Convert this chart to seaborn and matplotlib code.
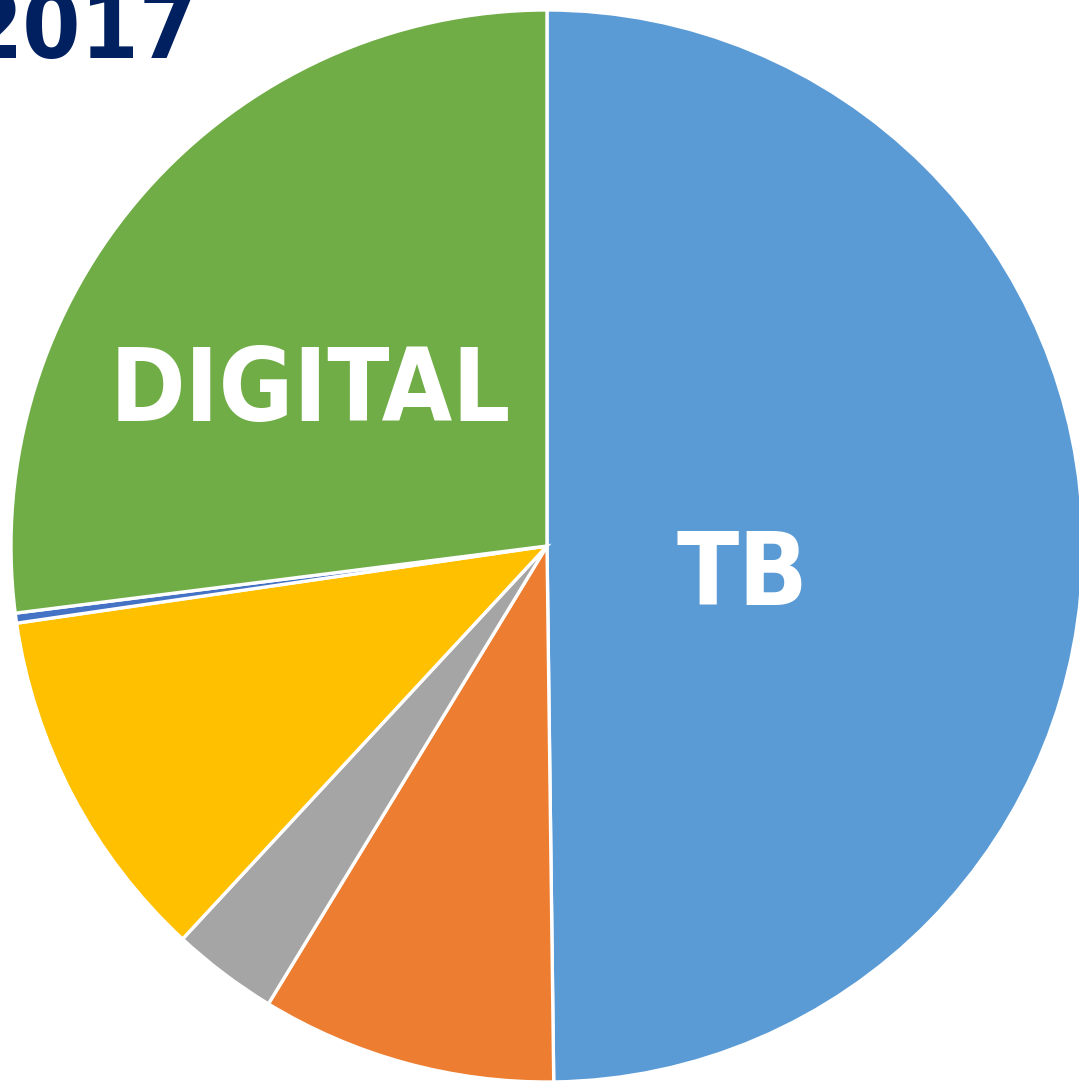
import matplotlib
matplotlib.use("Agg")
import matplotlib.pyplot as plt
import seaborn as sns

# shares, clockwise from 12 o'clock
categories = ['TB', 'B', 'C', 'D', 'E', 'DIGITAL']
shares = [49.8, 8.9, 3.2, 10.8, 0.3, 27.0]
slice_labels = ['TB', '', '', '', '', 'DIGITAL']
colors = ['#5B9BD5', '#ED7D31', '#A5A5A5', '#FFC000', '#4472C4', '#70AD47']
title = '2017'

sns.set_theme(style='white')
plt.rcParams['font.family'] = ['DejaVu Sans']

fig = plt.figure(figsize=(10.79, 10.81), dpi=100)
ax = fig.add_axes([11 / 1079, -1 / 1081, 1072 / 1079, 1072 / 1081])

wedges, _ = ax.pie(shares, colors=colors, startangle=90, counterclock=False,
                   radius=1.0,
                   wedgeprops=dict(edgecolor='white', linewidth=2.4))
for w in wedges:
    w.set_clip_on(False)
ax.set_xlim(-1, 1)
ax.set_ylim(-1, 1)
ax.set_aspect('equal')
ax.axis('off')

label_font = dict(color='white', fontsize=73, fontweight='bold',
                  fontstretch='condensed', ha='center', va='baseline')
ax.text(-0.441, 0.233, slice_labels[5], **label_font)
ax.text(0.364, -0.110, slice_labels[0], **label_font)

fig.text(197 / 1079, 1 - 58 / 1081, title, color='#002060', fontsize=67,
         fontweight='bold', fontstretch='condensed', ha='right', va='baseline')

fig.savefig('out.png', dpi=100)
